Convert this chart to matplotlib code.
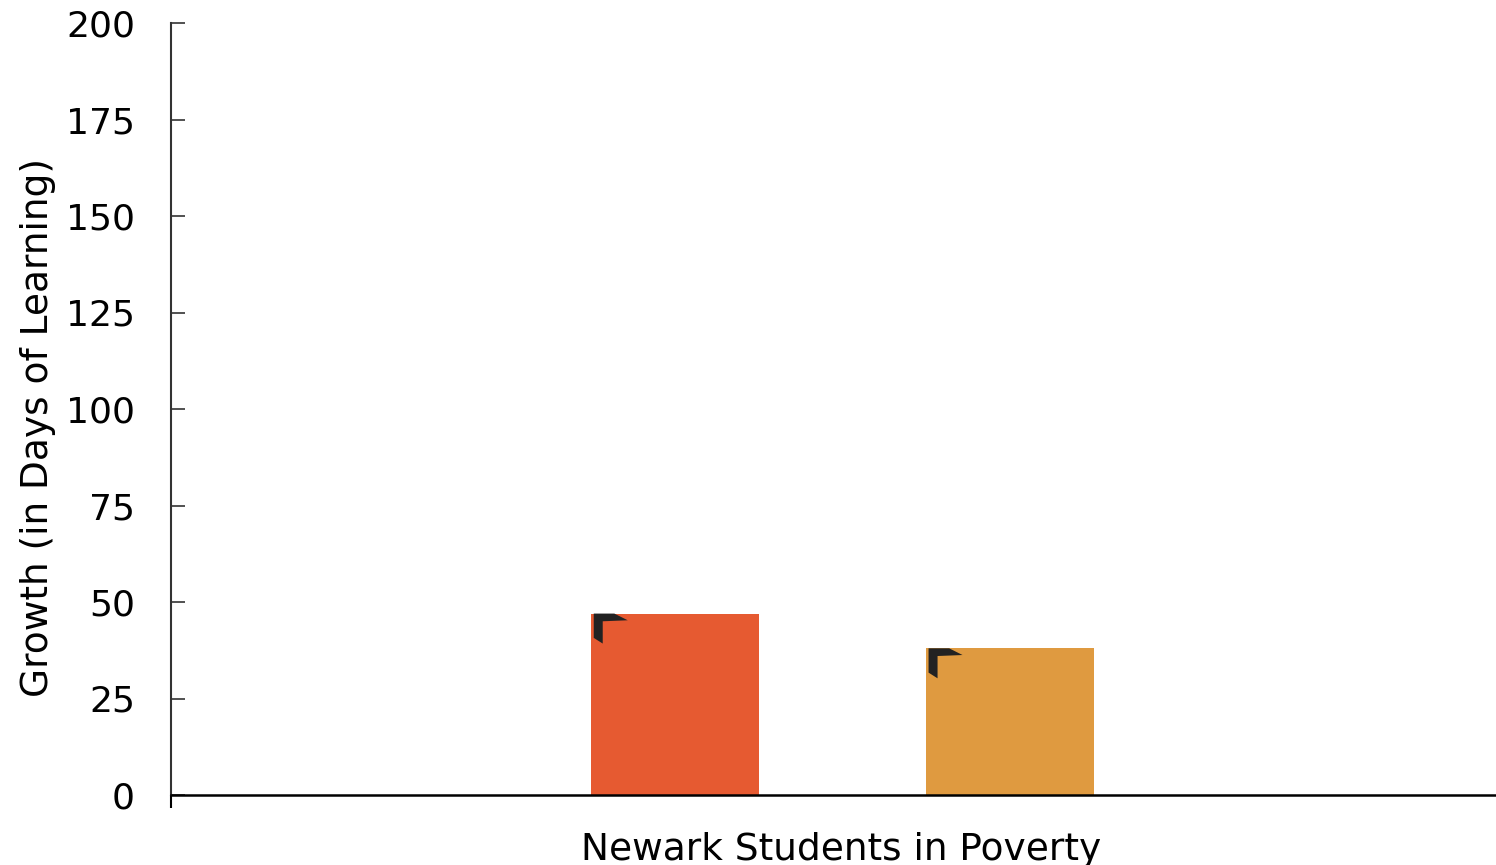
import matplotlib
matplotlib.use("Agg")
import matplotlib.pyplot as plt
import matplotlib.transforms as mtransforms
from matplotlib.patches import Polygon

category = "Newark Students in Poverty"
series_values = [47, 38]
series_colors = ["#E65A31", "#DF9A40"]
y_ticks = [0, 25, 50, 75, 100, 125, 150, 175, 200]
y_label = "Growth (in Days of Learning)"

fig = plt.figure(figsize=(14.96, 8.65), dpi=100)
ax = fig.add_axes([171 / 1496, 1 - 795 / 865, 1 - 171 / 1496, (795 - 23) / 865])

width = 0.127
offsets = [-0.1265, 0.1262]
center = 0.007
bars = []
for off, val, col in zip(offsets, series_values, series_colors):
    b = ax.bar(center + off, val, width=width, color=col, edgecolor="none")
    bars.append(b[0])

ax.set_xlim(-0.5, 0.5)
ax.set_ylim(0, 200)

# corner flag on top-left of each bar (pixel units, y pointing down)
flag = [(2.7, 0), (23.3, 0), (36.7, 6.7), (11.7, 7.7), (11.7, 30), (2.7, 24.3)]
for rect in bars:
    x0 = rect.get_x()
    y0 = rect.get_height()
    tr = mtransforms.Affine2D().scale(1, -1) + mtransforms.ScaledTranslation(x0, y0, ax.transData)
    ax.add_patch(Polygon(flag, closed=True, facecolor="#222222", edgecolor="none",
                         transform=tr, clip_on=False, zorder=3))

ax.spines["top"].set_visible(False)
ax.spines["right"].set_visible(False)
ax.spines["left"].set_color("#333333")
ax.spines["left"].set_linewidth(1.5)
ax.spines["bottom"].set_color("black")
ax.spines["bottom"].set_linewidth(1.8)

ax.set_yticks(y_ticks)
ax.set_yticklabels([str(t) for t in y_ticks])
ax.tick_params(axis="y", direction="in", length=10, width=1.2, color="#333333",
               labelsize=26, pad=26, labelcolor="black")
ax.set_xticks([-0.5])
ax.set_xticklabels([""])
ax.tick_params(axis="x", direction="out", length=9, width=1.5, color="black")

ax.set_xlabel(category, fontsize=27, labelpad=14, x=0.506)
ax.set_ylabel(y_label, fontsize=27, labelpad=7, y=0.476)

fig.savefig("out.png", dpi=100)
